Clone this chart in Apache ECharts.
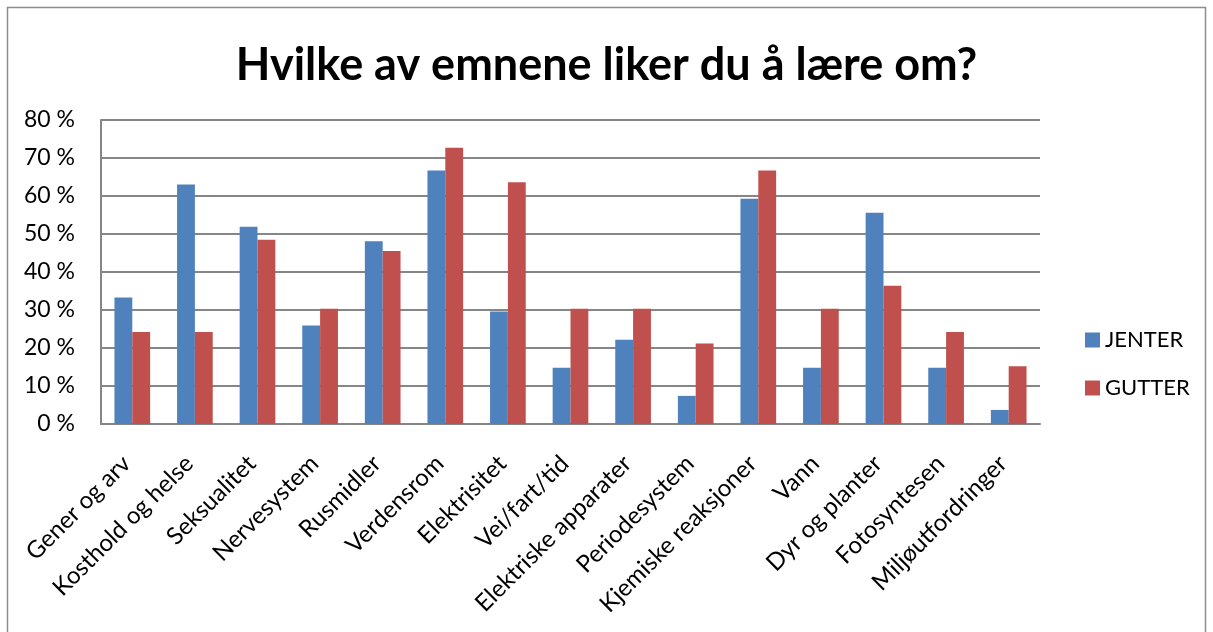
<!DOCTYPE html>
<html>
<head>
<meta charset="utf-8">
<script src="https://cdn.jsdelivr.net/npm/echarts@6/dist/echarts.min.js"></script>
<style>
  html, body { margin: 0; padding: 0; background: #fff; }
  #chart { width: 1213px; height: 632px; }
</style>
</head>
<body>
<div id="chart"></div>
<script>
  // emner
  var categories = ['Gener og arv', 'Kosthold og helse', 'Seksualitet', 'Nervesystem', 'Rusmidler',
    'Verdensrom', 'Elektrisitet', 'Vei/fart/tid', 'Elektriske apparater', 'Periodesystem',
    'Kjemiske reaksjoner', 'Vann', 'Dyr og planter', 'Fotosyntesen', 'Miljøutfordringer'];
  var jenter = [33.3, 63.0, 51.9, 25.9, 48.1, 66.7, 29.6, 14.8, 22.2, 7.4, 59.3, 14.8, 55.6, 14.8, 3.7];
  var gutter = [24.2, 24.2, 48.5, 30.3, 45.5, 72.7, 63.6, 30.3, 30.3, 21.2, 66.7, 30.3, 36.4, 24.2, 15.2];
  var yTicks = [0, 10, 20, 30, 40, 50, 60, 70, 80];

  var font = 'Lato, "Open Sans", sans-serif';
  var chart = echarts.init(document.getElementById('chart'));
  chart.setOption({
    animation: false,
    title: {
      text: 'Hvilke av emnene liker du å lære om?',
      left: 'center',
      top: 33,
      textStyle: { fontFamily: font, fontSize: 45, fontWeight: 'bold', color: '#000', lineHeight: 54 }
    },
    // ramme rundt diagrammet
    graphic: [{
      type: 'rect',
      shape: { x: 7.5, y: 7.5, width: 1198, height: 640 },
      style: { fill: 'none', stroke: '#8c8c8c', lineWidth: 1.5 }
    }],
    legend: {
      orient: 'vertical',
      left: 1080,
      top: 324,
      itemWidth: 15,
      itemHeight: 15,
      itemGap: 26,
      icon: 'rect',
      textStyle: { fontFamily: font, fontSize: 22, color: '#000' },
      data: ['JENTER', 'GUTTER']
    },
    grid: { left: 101, right: 173, top: 120, bottom: 208 },
    xAxis: {
      type: 'category',
      data: categories,
      axisLine: { lineStyle: { color: '#868686', width: 2 } },
      axisTick: { show: false },
      axisLabel: {
        interval: 0,
        rotate: 45,
        margin: 30,
        padding: [0, 8, 0, 0],
        fontFamily: font,
        fontSize: 24,
        color: '#000'
      }
    },
    yAxis: {
      type: 'value',
      min: yTicks[0],
      max: yTicks[yTicks.length - 1],
      interval: 10,
      axisLine: { show: true, lineStyle: { color: '#868686', width: 2 } },
      axisTick: { show: false },
      splitLine: { lineStyle: { color: '#868686', width: 2 } },
      axisLabel: {
        formatter: '{value} %',
        margin: 26,
        fontFamily: font,
        fontSize: 23,
        color: '#000'
      }
    },
    series: [
      {
        name: 'JENTER',
        type: 'bar',
        data: jenter,
        barGap: '0%',
        barCategoryGap: '43%',
        itemStyle: { color: '#4F81BD' }
      },
      {
        name: 'GUTTER',
        type: 'bar',
        data: gutter,
        itemStyle: { color: '#C0504D' }
      }
    ]
  });
</script>
</body>
</html>
